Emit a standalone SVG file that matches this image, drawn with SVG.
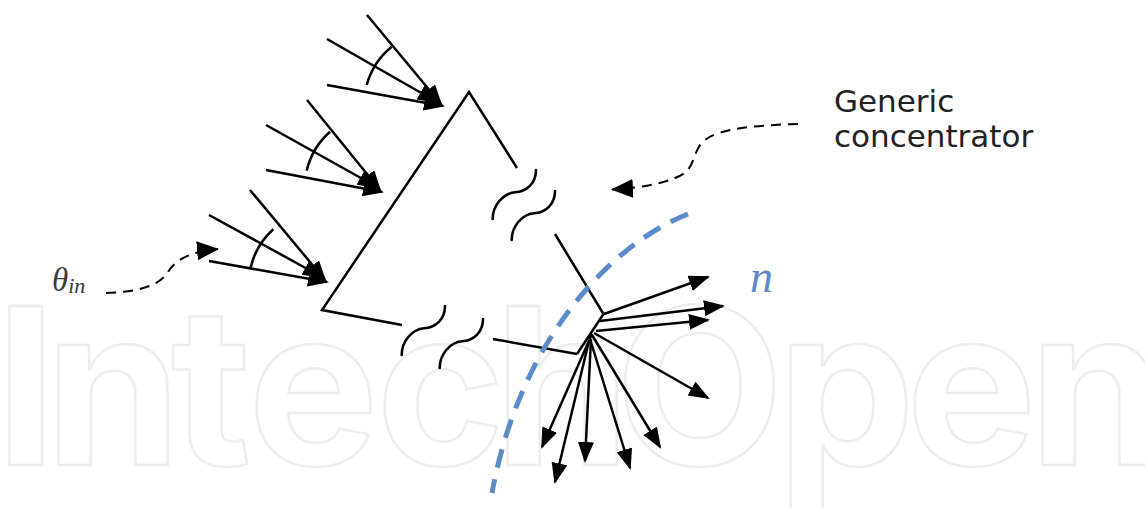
<svg xmlns="http://www.w3.org/2000/svg" width="1145" height="508" viewBox="0 0 1145 508">
<style>
.ln{fill:none;stroke:#000;stroke-width:2.5;stroke-linecap:butt}
.ar{fill:none;stroke:#000;stroke-width:2.5;marker-end:url(#ah)}
.arc{fill:none;stroke:#000;stroke-width:2.5}
.sq{fill:none;stroke:#000;stroke-width:2.6;stroke-linecap:round}
.dsh{fill:none;stroke:#000;stroke-width:2;stroke-dasharray:10 7}
.blue{fill:none;stroke:#5b8bc8;stroke-width:5;stroke-dasharray:19 12}
.lbl{font-family:"DejaVu Sans",Verdana,sans-serif;font-size:31px;fill:#222}
.wm{font-family:Inter,"Open Sans",sans-serif;font-weight:700;font-size:219px;fill:none;stroke:#ededed;stroke-width:2.5}
</style>
<defs>
<marker id="ah" markerUnits="userSpaceOnUse" markerWidth="22" markerHeight="18" viewBox="0 0 22 18" refX="19" refY="8" orient="auto">
<path d="M0,0 L21,8 L0,16 z" fill="#000"/>
</marker>
<marker id="ah2" markerUnits="userSpaceOnUse" markerWidth="24" markerHeight="20" viewBox="0 0 24 20" refX="21" refY="9.5" orient="auto">
<path d="M0,0 L22,9.5 L0,19 z" fill="#000"/>
</marker>
<path id="squig" d="M0,0 C0,13.3 -9.3,21.7 -21,22.3 C-32.7,23.3 -43.3,35 -43.3,49"/>
</defs>

<g id="watermark">
<text class="wm" x="-5 45 171 248 376 494 615 777 906 1029" y="465">IntechOpen</text>
</g>

<g id="concentrator">
<polyline class="ln" points="517,168 469,92 322,310 402,325"/>
<line class="ln" x1="555" y1="234" x2="603.5" y2="314"/>
<line class="ln" x1="493" y1="339" x2="577" y2="354"/>
<line class="ln" x1="603.5" y1="314" x2="577" y2="354"/>
<use href="#squig" class="sq" x="536" y="170"/>
<use href="#squig" class="sq" x="555" y="191"/>
<use href="#squig" class="sq" x="445" y="306"/>
<use href="#squig" class="sq" x="483" y="319"/>
</g>

<g id="incoming-rays-1">
<line class="ar" x1="367" y1="15" x2="441" y2="104"/>
<line class="ar" x1="327" y1="39" x2="437" y2="102"/>
<line class="ar" x1="327" y1="85" x2="443" y2="106"/>
<path class="arc" d="M366.7,85 A75,75 0 0 1 391.7,46.7"/>
</g>
<g id="incoming-rays-2">
<line class="ar" x1="307" y1="100" x2="380" y2="190"/>
<line class="ar" x1="266" y1="125" x2="377" y2="187"/>
<line class="ar" x1="266" y1="170" x2="382" y2="192"/>
<path class="arc" d="M306.7,170.7 A75,75 0 0 1 330,131.7"/>
</g>
<g id="incoming-rays-3">
<line class="ar" x1="250" y1="190" x2="325" y2="280"/>
<line class="ar" x1="209" y1="215" x2="322" y2="277"/>
<line class="ar" x1="209" y1="261" x2="327" y2="282"/>
<path class="arc" d="M250.7,267.3 A74,74 0 0 1 273.3,229.3"/>
</g>

<g id="exit-rays">
<line class="ar" x1="604" y1="314" x2="708" y2="277"/>
<line class="ar" x1="600" y1="321" x2="723" y2="306"/>
<line class="ar" x1="596" y1="331" x2="708" y2="320"/>
<line class="ar" x1="594" y1="333" x2="708" y2="398"/>
<line class="ar" x1="592" y1="335" x2="660" y2="447"/>
<line class="ar" x1="590" y1="339" x2="630" y2="468"/>
<line class="ar" x1="591" y1="339" x2="585" y2="461"/>
<line class="ar" x1="589" y1="341" x2="555" y2="482"/>
<line class="ar" x1="592" y1="334" x2="542" y2="447"/>
</g>

<g id="normal">
<path class="blue" d="M688,214 C610,245 520,340 492,493"/>
<text x="750" y="292" font-family="'Liberation Serif','Times New Roman',serif" font-style="italic" font-size="46" fill="#5b8bc8">n</text>
</g>

<g id="label-theta">
<text x="52" y="291" font-family="'Liberation Serif','Times New Roman',serif" font-style="italic" font-size="33" fill="#3a3a3a">θ<tspan font-size="22" dy="2">in</tspan></text>
</g>

<g id="label-concentrator">
<text class="lbl" x="834" y="111.5">Generic</text>
<text class="lbl" x="834" y="147">concentrator</text>
</g>

<g id="connectors">
<path class="dsh" d="M106,293 C140,292 160,285 168,272 C176,258 195,251 218,249" marker-end="url(#ah2)"/>
<path class="dsh" d="M798,124 C760,125 720,128 705,140 C690,152 698,170 675,178 C660,184 640,188 612,189.5" marker-end="url(#ah2)"/>
</g>
</svg>
